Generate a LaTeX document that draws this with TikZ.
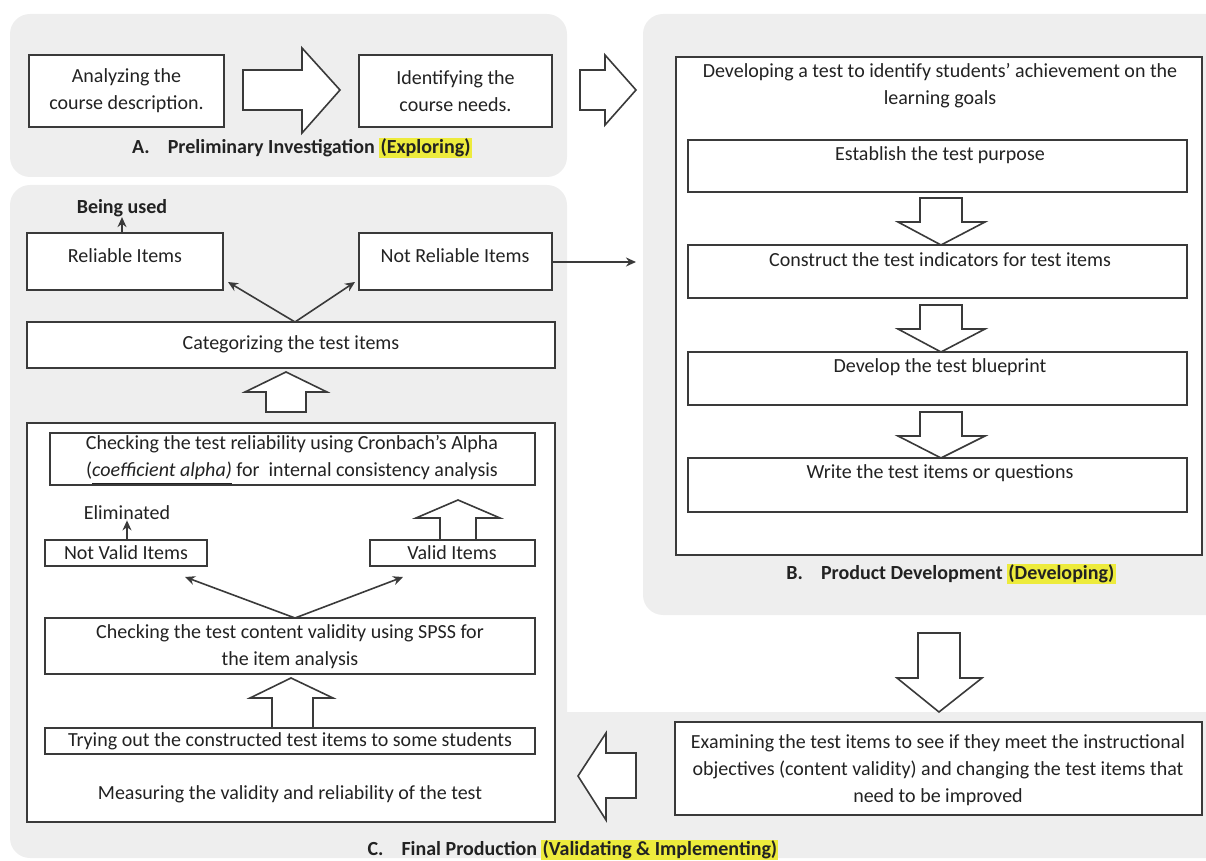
\documentclass[tikz,border=0pt]{standalone}
\usepackage{fontspec}
\setmainfont{Carlito}
\usetikzlibrary{arrows.meta,fit}
\definecolor{panel}{HTML}{EEEEEE}
\definecolor{hl}{HTML}{EDEB3C}
\definecolor{ln}{HTML}{3A3A3A}
\definecolor{tx}{HTML}{222222}
\setlength{\fboxsep}{0.6pt}
\begin{document}
\begin{tikzpicture}[x=0.5pt,y=-0.5pt,
  txt/.style={text=tx,font=\fontsize{10}{13.5}\selectfont,align=center,inner sep=0pt},
  btxt/.style={text=tx,font=\fontsize{10}{13.5}\selectfont\bfseries,align=center,inner sep=0pt},
  box/.style={draw=ln,line width=0.8pt,fill=white,inner sep=0pt},
  barrow/.style={draw=ln,line width=0.8pt,fill=white,line join=miter},
  conn/.style={draw=ln,line width=0.8pt,-{Stealth[length=5pt,width=4.5pt]}},
  panelbg/.style={fill=panel,draw=none}]
\useasboundingbox (0,0) rectangle (1206,861);
\clip (0,0) rectangle (1206,861);
% panels
\fill[panelbg,rounded corners=10pt] (10,14) rectangle (567,177);
\fill[panelbg,rounded corners=10pt] (643,14) rectangle (1240,615);
\fill[panelbg,rounded corners=10pt] (10,500) |- (567,185) [sharp corners] -- (567,712) -- (1240,712) -- (1240,858) [rounded corners=10pt] -| (10,500) -- cycle;

% Panel A
\node[box,fit={(29,55)(224,127)}] (anal) {};
\node[txt] at (anal.center) {Analyzing the\\course description.};
\node[box,fit={(359,55)(552,127)}] (ident) {};
\node[txt] at (ident.center) {Identifying the\\course needs.};
\draw[barrow] (243,70) -- (302,70) -- (302,48) -- (340,90) -- (302,133) -- (302,110) -- (243,110) -- cycle;
\node[btxt] (labA) at (302,148) {A.\hspace{0.9em}Preliminary Investigation \colorbox{hl}{(Exploring)}};
\draw[barrow] (580,70) -- (605,70) -- (605,55) -- (636,90) -- (605,125) -- (605,110) -- (580,110) -- cycle;

% Panel B
\node[box,fit={(676,57)(1202,555)}] (devbox) {};
\node[txt] (devtitle) at (940,86) {Developing a test to identify students’ achievement on the\\learning goals};
\node[box,fit={(688,140)(1187,192)}] (b1) {};
\node[txt] at (940,155) {Establish the test purpose};
\node[box,fit={(688,245)(1187,298)}] (b2) {};
\node[txt] at (940,260) {Construct the test indicators for test items};
\node[box,fit={(688,352)(1187,405)}] (b3) {};
\node[txt] at (940,367) {Develop the test blueprint};
\node[box,fit={(688,458)(1187,512)}] (b4) {};
\node[txt] at (940,473) {Write the test items or questions};
\foreach \t/\m/\b in {198/222/245, 305/329/352, 412/436/458}{
  \draw[barrow] (920,\t) -- (962,\t) -- (962,\m) -- (985,\m) -- (941,\b) -- (898,\m) -- (920,\m) -- cycle;
}
\node[btxt] (labB) at (951,574) {B.\hspace{0.9em}Product Development \colorbox{hl}{(Developing)}};

% Panel C
\node[btxt] (used) at (122,208) {Being used};
\node[box,fit={(27,233)(223,290)}] (rel) {};
\node[txt] at (125,256) {Reliable Items};
\node[box,fit={(359,233)(552,290)}] (nrel) {};
\node[txt] at (455,256) {Not Reliable Items};
\node[box,fit={(27,322)(555,368)}] (cat) {};
\node[txt] at (291,344) {Categorizing the test items};
\coordinate (toB) at (636,262);
\coordinate (relend) at (228,282);
\coordinate (nrelend) at (355,282);
\draw[conn] (used.south |- rel.north) -- (used.south);
\draw[conn] (nrel.east |- toB) -- (toB);
\draw[conn] (295,322) -- (relend);
\draw[conn] (295,322) -- (nrelend);
\draw[barrow] (266,412) -- (266,392) -- (245,392) -- (286,372) -- (327,392) -- (306,392) -- (306,412) -- cycle;

\node[box,fit={(27,423)(555,822)}] (meas) {};
\node[box,fit={(50,433)(535,485)}] (relcheck) {};
\node[txt] at (292,460) {Checking the test reliability using Cronbach’s Alpha\\(\underline{\textit{coefficient alpha)}} for\ \ internal consistency analysis};
\node[txt] (elim) at (127,513) {Eliminated};
\node[box,fit={(45,540)(207,566)}] (nvalid) {};
\node[txt] at (126,553) {Not Valid Items};
\node[box,fit={(370,540)(535,566)}] (valid) {};
\node[txt] at (452,553) {Valid Items};
\draw[conn] (elim.south |- nvalid.north) -- (elim.south);
\draw[barrow] (440,540) -- (440,518) -- (416,518) -- (458,500) -- (500,518) -- (476,518) -- (476,540) -- cycle;
\node[box,fit={(45,618)(535,674)}] (spss) {};
\node[txt] at (290,647) {Checking the test content validity using SPSS for\\the item analysis};
\coordinate (nvend) at (185,577);
\coordinate (vend) at (403,577);
\draw[conn] (295,618) -- (nvend);
\draw[conn] (295,618) -- (vend);
\draw[barrow] (272,728) -- (272,698) -- (250,698) -- (291,678) -- (333,698) -- (313,698) -- (313,728) -- cycle;
\node[box,fit={(45,728)(535,754)}] (try) {};
\node[txt] at (290,741) {Trying out the constructed test items to some students};
\node[txt] at (290,794) {Measuring the validity and reliability of the test};

\draw[barrow] (918,633) -- (960,633) -- (960,678) -- (982,678) -- (939,712) -- (897,678) -- (918,678) -- cycle;
\node[box,fit={(675,722)(1202,815)}] (exam) {};
\node[txt] at (938,770) {Examining the test items to see if they meet the instructional\\objectives (content validity) and changing the test items that\\need to be improved};
\draw[barrow] (636,753) -- (606,753) -- (606,733) -- (578,776) -- (606,820) -- (606,798) -- (636,798) -- cycle;
\node[btxt] (labC) at (573,850) {C.\hspace{0.9em}Final Production \colorbox{hl}{(Validating \& Implementing)}};
\end{tikzpicture}
\end{document}
